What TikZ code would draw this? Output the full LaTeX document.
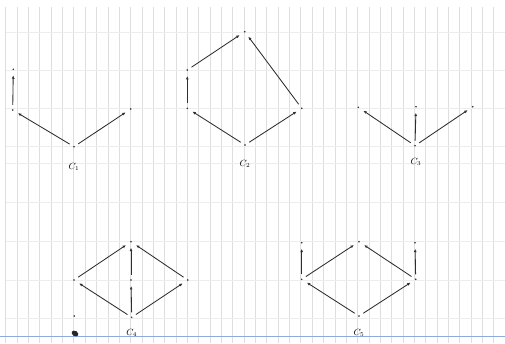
\documentclass[tikz,border=0pt]{standalone}
\usetikzlibrary{arrows.meta}
\begin{document}
\begin{tikzpicture}[x=1pt,y=-1pt,
  vgrid/.style={draw=black!13,line width=0.5pt},
  hgrid/.style={draw=black!7,line width=0.5pt},
  dot/.style={circle,fill=black!85,inner sep=0pt,minimum size=1.7pt,outer sep=4.2pt},
  arr/.style={draw=black!82,line width=0.85pt,shorten >=1pt,
    -{Latex[open,length=3.4pt,width=3pt]}},
  lab/.style={font=\small,inner sep=0pt}]
\fill[white] (0,0) rectangle (505,343);
\useasboundingbox (0,0) rectangle (505,343);
% graph paper
\foreach \i in {0,...,43} \draw[vgrid] ({5.6+11.35*\i},7) -- ({5.6+11.35*\i},343);
\foreach \yy in {32,70,108,146,163,202,241,280,318} \draw[hgrid] (6,\yy) -- (505,\yy);
\draw[draw=cyan!45!blue!45,line width=0.8pt] (0,336) -- (505,336);

% C1
\node[dot] (a1) at (13.3,69.3) {};
\node[dot] (a2) at (12.7,110) {};
\node[dot] (a3) at (130.7,109) {};
\node[dot] (a0) at (74,146.7) {};
\node[lab] (la) at (74,166.5) {$C_1$};
\draw[arr] (a0) -- (a2);
\draw[arr] (a0) -- (a3);
\draw[arr] (a2) -- (a1);

% C2
\node[dot] (b4) at (244.7,31.7) {};
\node[dot] (b2) at (187.3,70) {};
\node[dot] (b1) at (187.3,108.3) {};
\node[dot] (b3) at (301.7,108.3) {};
\node[dot] (b0) at (245,145) {};
\node[lab] (lb) at (245,164) {$C_2$};
\draw[arr] (b0) -- (b1);
\draw[arr] (b1) -- (b2);
\draw[arr] (b2) -- (b4);
\draw[arr] (b0) -- (b3);
\draw[arr] (b3) -- (b4);

% C3
\node[dot] (c1) at (358.3,107.3) {};
\node[dot] (c2) at (416,106.7) {};
\node[dot] (c3) at (472.7,106.7) {};
\node[dot] (c0) at (415,145.7) {};
\node[lab] (lc) at (416,161.7) {$C_3$};
\draw[arr] (c0) -- (c1);
\draw[arr] (c0) -- (c2);
\draw[arr] (c0) -- (c3);

% C4
\node[dot] (d4) at (131,241.7) {};
\node[dot] (d1) at (74,280) {};
\node[dot] (d2) at (131,280) {};
\node[dot] (d3) at (187.7,280) {};
\node[dot] (d0) at (131.7,317.3) {};
\node[dot] (dx) at (74.3,316) {};
\node[lab] (ld) at (131.7,333) {$C_4$};
\draw[arr] (d1) -- (d4);
\draw[arr] (d2) -- (d4);
\draw[arr] (d3) -- (d4);
\draw[arr] (d0) -- (d1);
\draw[arr] (d0) -- (d2);
\draw[arr] (d0) -- (d3);
\fill[black!85,rotate around={-30:(75,333.5)}] (75,333.5) ellipse (3.6pt and 2.6pt);

% C5
\node[dot] (e3) at (301.7,242.7) {};
\node[dot] (e4) at (359,241.7) {};
\node[dot] (e5) at (415,242.7) {};
\node[dot] (e1) at (301.7,279.3) {};
\node[dot] (e2) at (415.7,279.3) {};
\node[dot] (e0) at (359,316) {};
\node[lab] (le) at (359,333) {$C_5$};
\draw[arr] (e1) -- (e3);
\draw[arr] (e1) -- (e4);
\draw[arr] (e2) -- (e4);
\draw[arr] (e2) -- (e5);
\draw[arr] (e0) -- (e1);
\draw[arr] (e0) -- (e2);
\end{tikzpicture}
\end{document}
